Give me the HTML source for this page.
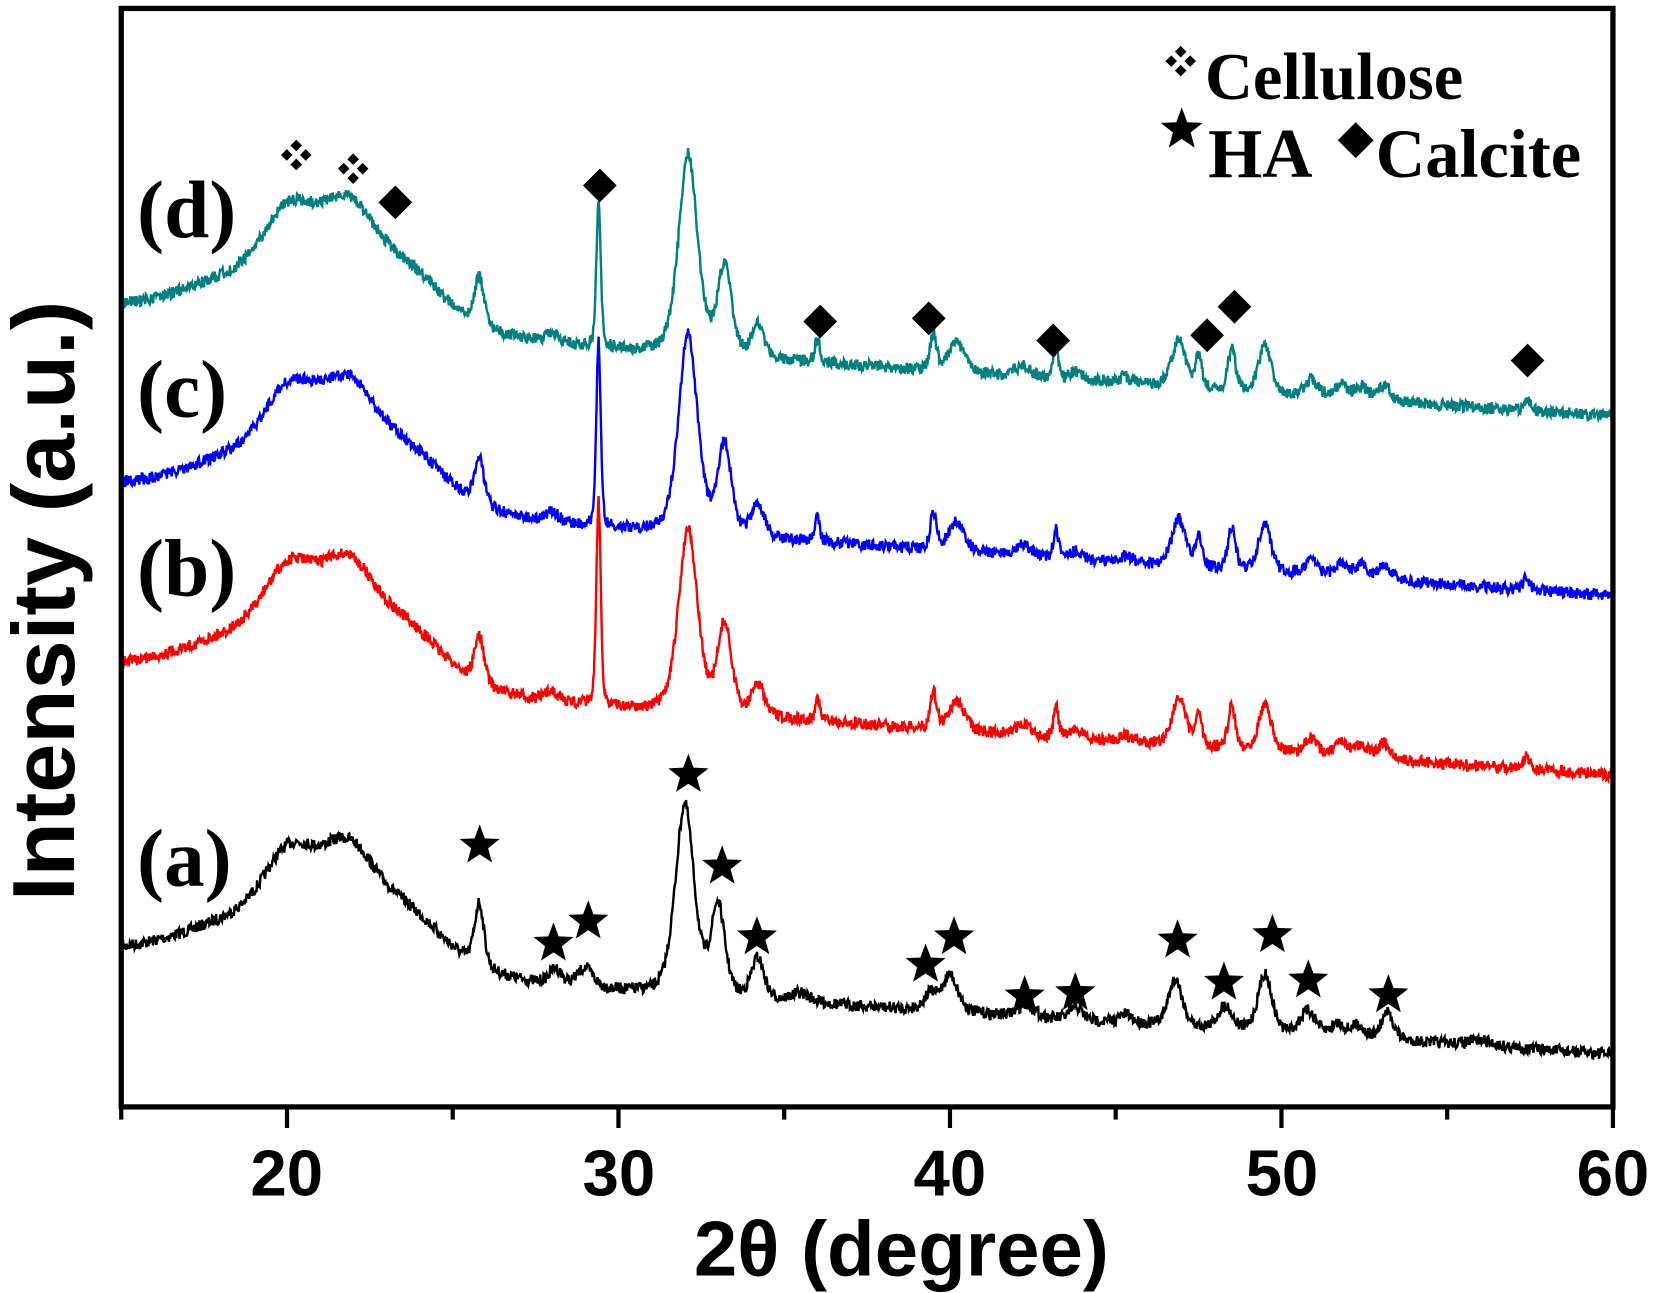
<!DOCTYPE html>
<html><head><meta charset="utf-8"><style>html,body{margin:0;padding:0;background:#fff}svg{display:block}</style></head>
<body>
<svg id="s" width="1653" height="1293" viewBox="0 0 1568 1226.5" xmlns="http://www.w3.org/2000/svg">
<rect width="1568" height="1227" fill="#fff"/>
<g id="curves"></g>
<rect x="115" y="8" width="1415" height="1042" fill="none" stroke="#000" stroke-width="5"/>
<g id="ticks" stroke="#000" stroke-width="4"></g>
<g font-family="Liberation Sans, sans-serif" font-weight="bold" font-size="62" text-anchor="middle">
<text x="272" y="1134">20</text><text x="587" y="1134">30</text><text x="901" y="1134">40</text><text x="1216" y="1134">50</text><text x="1530" y="1134">60</text>
<text x="855" y="1210" font-size="74">2θ (degree)</text>
<text transform="translate(70,570) rotate(-90)" font-size="84">Intensity (a.u.)</text>
</g>
<g font-family="Liberation Serif, serif" font-weight="bold" font-size="77">
<text x="130" y="225">(d)</text><text x="130" y="395">(c)</text><text x="130" y="565">(b)</text><text x="130" y="840">(a)</text>
<text x="1143" y="94" font-size="63">Cellulose</text>
<text x="1146" y="168" font-size="66">HA</text>
<text x="1305" y="168" font-size="65">Calcite</text>
</g>
<g id="marks" fill="#000"></g>
</svg>
<script>
var NS="http://www.w3.org/2000/svg";
function X(d){return 115+(d-15)*1415/45;}
var seed=7;function rnd(){seed=(seed*16807)%2147483647;return seed/2147483647;}
var pa=[[25.8,60,.15],[28.1,15,.2],[29.0,18,.25],[32.0,180,.3],[33.0,85,.22],[34.2,38,.2],[35.5,8,.3],[39.4,15,.2],[40.0,35,.25],[42.3,12,.25],[43.8,12,.2],[45.3,8,.2],[46.8,45,.22],[48.3,22,.22],[49.5,55,.22],[50.8,22,.25],[51.7,12,.2],[52.3,12,.2],[53.2,25,.2],[56,5,.4]];
function pb(c,k){return [[25.8,45,.15],[28,10,.2],[29.4,c,.07],[32.1,k,.3],[33.2,85,.22],[34.2,30,.2],[36.0,22,.08],[39.5,35,.1],[40.2,28,.25],[42.2,10,.25],[43.2,28,.08],[43.8,8,.2],[45.3,6,.2],[46.9,45,.22],[47.5,30,.1],[48.5,40,.12],[49.5,45,.2],[50.9,15,.2],[51.8,12,.2],[52.4,12,.2],[53.1,15,.2],[57.4,12,.1]];}
var series=[["#000",910,1000,pa],["#f00",640,735,pb(195,175)],["#00f",470,565,pb(175,190)],["#008080",300,395,pb(140,190)]];
function G(x,m,s,a){var t=(x-m)/s;return a*Math.exp(-t*t/2);}
var g=document.getElementById("curves");
series.forEach(function(s){
 var d="";
 for(var x=15;x<=60.001;x+=0.02){
  var y=s[1]+(s[2]-s[1])*(x-15)/45;
  y-=G(x,20.1,0.7,48)+G(x,21.8,0.7,52)+G(x,20.8,2.6,60)+G(x,23.5,1.1,30)+G(x,19,4,12);
  s[3].forEach(function(p){var t=(x-p[0])/p[2];y-=p[1]*(0.6*Math.exp(-t*t/2)+0.4/(1+t*t));});
  y+=(rnd()-0.5)*11;
  d+=(d?"L":"M")+X(x).toFixed(1)+","+y.toFixed(1);
 }
 var p=document.createElementNS(NS,"path");p.setAttribute("d",d);p.setAttribute("fill","none");p.setAttribute("stroke",s[0]);p.setAttribute("stroke-width","2.3");g.appendChild(p);
});
var tk=document.getElementById("ticks"),ts="";
for(var v=15;v<=60;v+=5){var L=(v%10==0)?20:12;ts+="<line x1='"+X(v)+"' y1='1050' x2='"+X(v)+"' y2='"+(1050+L)+"'/>";}
tk.innerHTML=ts;
var m=document.getElementById("marks"),ms="";
function star(cx,cy,r){var pts=[];for(var i=0;i<10;i++){var a=-Math.PI/2+i*Math.PI/5,rr=i%2?r*0.42:r;pts.push((cx+rr*Math.cos(a)).toFixed(1)+","+(cy+rr*Math.sin(a)).toFixed(1));}return "<polygon points='"+pts.join(" ")+"'/>";}
function dia(cx,cy,r){return "<polygon points='"+cx+","+(cy-r)+" "+(cx+r)+","+cy+" "+cx+","+(cy+r)+" "+(cx-r)+","+cy+"'/>";}
function cel(cx,cy){var r=5.5,o=9;return dia(cx,cy-o,r)+dia(cx-o,cy,r)+dia(cx+o,cy,r)+dia(cx,cy+o,r);}
[[455,800],[525,893],[558,872],[653,733],[685,820],[718,887],[878,913],[905,887],[972,943],[1020,940],[1117,890],[1161,930],[1207,885],[1241,928],[1317,942]].forEach(function(p){ms+=star(p[0],p[1]+2,20);});
[[375,192],[569,176],[778,305],[881,302],[999,323],[1145,318],[1171,291],[1449,342]].forEach(function(p){ms+=dia(p[0],p[1],16);});
ms+=cel(281,147)+cel(335,160)+cel(1120,58);
ms+=star(1121,123,21)+dia(1286,133,17);
m.innerHTML=ms;
</script>
</body></html>
